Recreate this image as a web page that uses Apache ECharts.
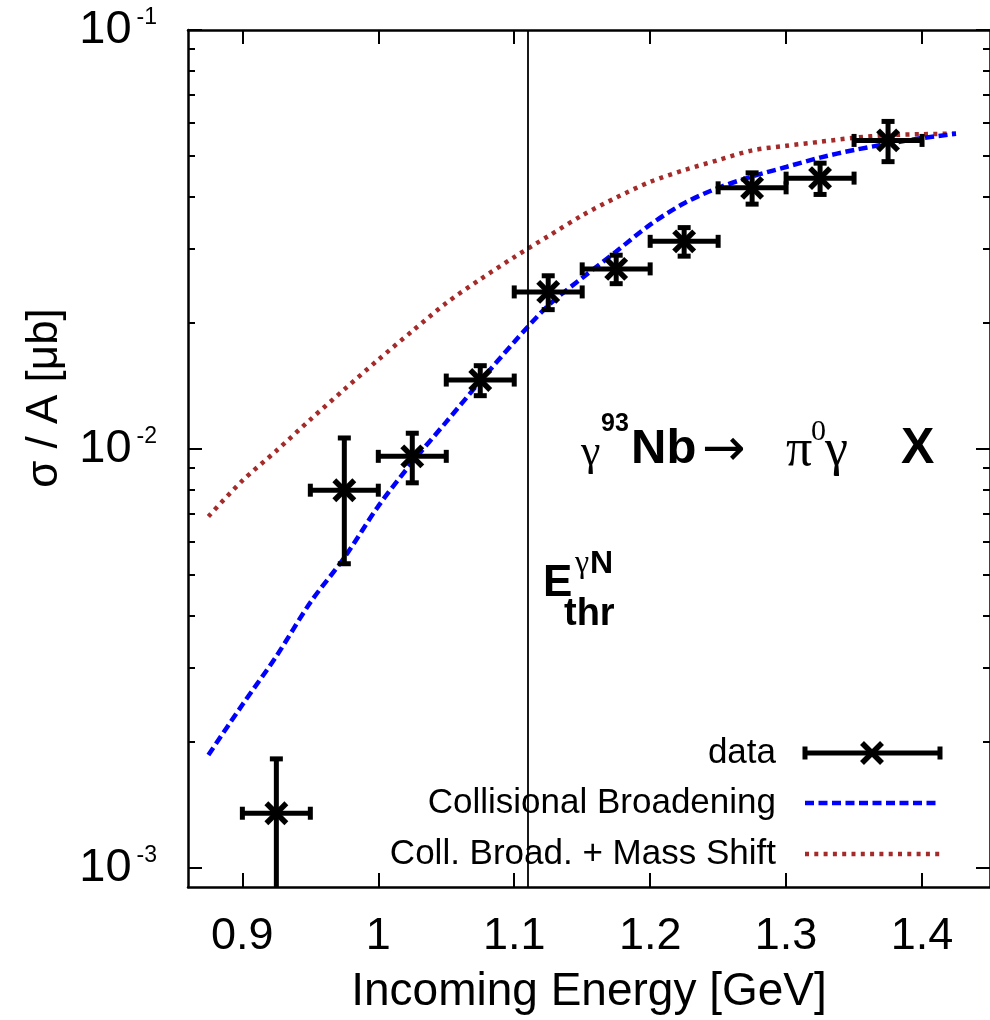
<!DOCTYPE html>
<html>
<head>
<meta charset="utf-8">
<script src="https://cdn.jsdelivr.net/npm/echarts@6/dist/echarts.min.js"></script>
<style>
  html, body { margin: 0; padding: 0; background: #fff; }
  #chart { width: 990px; height: 1020px; }
</style>
</head>
<body>
<div id="chart"></div>
<script>
// Measured cross sections per nucleon (bin centres, values and errors in µb)
const energy = [0.925, 0.975, 1.025, 1.075, 1.125, 1.175, 1.225, 1.275, 1.325, 1.375];
const sigma = [1.35e-3, 7.97e-3, 9.6e-3, 1.46e-2, 2.37e-2, 2.69e-2, 3.13e-2, 4.2e-2, 4.43e-2, 5.45e-2];
const sigmaErr = [0.47e-3, 2.65e-3, 1.3e-3, 0.12e-2, 0.22e-2, 0.21e-2, 0.245e-2, 0.36e-2, 0.38e-2, 0.6e-2];
const binHalfWidth = [0.025, 0.025, 0.025, 0.025, 0.025, 0.025, 0.025, 0.025, 0.025, 0.025];

// Model curves
const modelEnergy = [0.875, 0.9, 0.925, 0.95, 0.975, 1.0, 1.025, 1.05, 1.075, 1.1, 1.125, 1.15,
  1.175, 1.2, 1.225, 1.25, 1.275, 1.3, 1.325, 1.35, 1.375, 1.4, 1.425];
const collBroadening = [1.86e-3, 2.45e-3, 3.2e-3, 4.3e-3, 5.5e-3, 7.3e-3, 9.3e-3, 1.16e-2, 1.45e-2,
  1.80e-2, 2.2e-2, 2.56e-2, 2.96e-2, 3.43e-2, 3.86e-2, 4.2e-2, 4.47e-2, 4.71e-2, 4.96e-2,
  5.17e-2, 5.35e-2, 5.52e-2, 5.65e-2];
const massShift = [6.9e-3, 8.4e-3, 9.9e-3, 1.175e-2, 1.387e-2, 1.633e-2, 1.911e-2, 2.23e-2, 2.54e-2,
  2.87e-2, 3.22e-2, 3.61e-2, 3.98e-2, 4.34e-2, 4.63e-2, 4.89e-2, 5.16e-2, 5.29e-2, 5.41e-2,
  5.53e-2, 5.61e-2, 5.64e-2, 5.66e-2];

// Threshold energy E_thr for the elementary reaction on a nucleon
const thresholdEnergy = 1.108;

// Axis ticks
const xTicks = [0.9, 1.0, 1.1, 1.2, 1.3, 1.4];
const yMajorTicks = [0.001, 0.01, 0.1];
const yMinorTicks = [0.002, 0.003, 0.004, 0.005, 0.006, 0.007, 0.008, 0.009,
  0.02, 0.03, 0.04, 0.05, 0.06, 0.07, 0.08, 0.09];

const FONT = 'Liberation Sans';
const SERIF = 'Liberation Serif';

const dataPoints = energy.map((e, i) => [e, sigma[i], binHalfWidth[i], sigmaErr[i]]);
const blueCurve = modelEnergy.map((e, i) => [e, collBroadening[i]]);
const brownCurve = modelEnergy.map((e, i) => [e, massShift[i]]);

const BLUE_DASH = [9, 4.5];
const BROWN_DOT = [4, 5.3];

const chart = echarts.init(document.getElementById('chart'), null, { renderer: 'canvas' });

const frameLine = { show: true, lineStyle: { color: '#000', width: 2.5 } };

function xAxisCfg(pos, withLabels) {
  return {
    type: 'value', position: pos, min: 0.86, max: 1.45,
    axisLine: frameLine,
    axisTick: { show: true, inside: true, length: 14, customValues: xTicks,
      lineStyle: { color: '#000', width: 2 } },
    axisLabel: withLabels ? {
      show: true, customValues: xTicks, margin: 27, color: '#000',
      fontSize: 45, fontFamily: FONT,
      formatter: v => (Math.round(v * 10) / 10).toString()
    } : { show: false },
    splitLine: { show: false },
    name: withLabels ? 'Incoming Energy [GeV]' : '',
    nameLocation: 'middle', nameGap: 82,
    nameTextStyle: { fontSize: 46, fontFamily: FONT, color: '#000' }
  };
}

function yAxisCfg(pos, major, withLabels) {
  return {
    type: 'log', position: pos, min: 0.0009, max: 0.1, logBase: 10,
    axisLine: major ? frameLine : { show: false },
    axisTick: { show: true, inside: true, length: major ? 14 : 7,
      customValues: major ? yMajorTicks : yMinorTicks,
      lineStyle: { color: '#000', width: 2 } },
    axisLabel: withLabels ? {
      show: true, customValues: yMajorTicks, margin: 31, color: '#000',
      formatter: v => '{b|10}{s|' + Math.round(Math.log10(v)) + '}',
      rich: {
        b: { fontSize: 47, fontFamily: FONT, color: '#000' },
        s: { fontSize: 23, fontFamily: FONT, color: '#000', verticalAlign: 'top', padding: [0, 0, 0, 5] }
      }
    } : { show: false },
    splitLine: { show: false },
    minorTick: { show: false }
  };
}

// Data points with horizontal (bin) and vertical (statistical) error bars and an "x" marker
function renderPoint(params, api) {
  const x = api.value(0), y = api.value(1), dx = api.value(2), dy = api.value(3);
  const c = api.coord([x, y]);
  const l = api.coord([x - dx, y]);
  const r = api.coord([x + dx, y]);
  const t = api.coord([x, y + dy]);
  const b = api.coord([x, y - dy]);
  const lw = 5, cap = 13, m = 10;
  const st = { stroke: '#000', lineWidth: lw, fill: null, lineCap: 'butt' };
  const mk = { stroke: '#000', lineWidth: 5.5, fill: null, lineCap: 'butt' };
  return {
    type: 'group',
    children: [
      { type: 'line', shape: { x1: l[0], y1: c[1], x2: r[0], y2: c[1] }, style: st },
      { type: 'line', shape: { x1: c[0], y1: t[1], x2: c[0], y2: b[1] }, style: st },
      { type: 'rect', shape: { x: l[0] - 2.5, y: c[1] - cap / 2, width: 5, height: cap }, style: { fill: '#000' } },
      { type: 'rect', shape: { x: r[0] - 2.5, y: c[1] - cap / 2, width: 5, height: cap }, style: { fill: '#000' } },
      { type: 'rect', shape: { x: c[0] - cap / 2, y: t[1] - 2.5, width: cap, height: 5 }, style: { fill: '#000' } },
      { type: 'rect', shape: { x: c[0] - cap / 2, y: b[1] - 2.5, width: cap, height: 5 }, style: { fill: '#000' } },
      { type: 'line', shape: { x1: c[0] - m, y1: c[1] - m, x2: c[0] + m, y2: c[1] + m }, style: mk },
      { type: 'line', shape: { x1: c[0] - m, y1: c[1] + m, x2: c[0] + m, y2: c[1] - m }, style: mk }
    ]
  };
}

// Legend entries drawn at the lower right of the plot
const legendRightX = 776;
const legendLineX1 = 805, legendLineX2 = 940;
const legendRows = [753, 803, 854];
const legendStyle = { fontSize: 35, fontFamily: FONT, fill: '#000', align: 'right', verticalAlign: 'middle' };

const legendGraphics = [
  { type: 'text', x: legendRightX, y: legendRows[0], style: Object.assign({ text: 'data' }, legendStyle) },
  { type: 'text', x: legendRightX, y: legendRows[1], style: Object.assign({ text: 'Collisional Broadening' }, legendStyle) },
  { type: 'text', x: legendRightX, y: legendRows[2], style: Object.assign({ text: 'Coll. Broad. + Mass Shift' }, legendStyle) },
  { type: 'line', shape: { x1: legendLineX1, y1: legendRows[0], x2: legendLineX2, y2: legendRows[0] },
    style: { stroke: '#000', lineWidth: 5 } },
  { type: 'rect', shape: { x: legendLineX1 - 2.5, y: legendRows[0] - 6.5, width: 5, height: 13 }, style: { fill: '#000' } },
  { type: 'rect', shape: { x: legendLineX2 - 2.5, y: legendRows[0] - 6.5, width: 5, height: 13 }, style: { fill: '#000' } },
  { type: 'line', shape: { x1: 862, y1: legendRows[0] - 10, x2: 882, y2: legendRows[0] + 10 },
    style: { stroke: '#000', lineWidth: 5.5 } },
  { type: 'line', shape: { x1: 862, y1: legendRows[0] + 10, x2: 882, y2: legendRows[0] - 10 },
    style: { stroke: '#000', lineWidth: 5.5 } },
  { type: 'line', shape: { x1: legendLineX1, y1: legendRows[1], x2: legendLineX2, y2: legendRows[1] },
    style: { stroke: '#0000ff', lineWidth: 4.5, lineDash: BLUE_DASH, lineCap: 'butt' } },
  { type: 'line', shape: { x1: legendLineX1, y1: legendRows[2], x2: legendLineX2, y2: legendRows[2] },
    style: { stroke: '#a52a2a', lineWidth: 4.5, lineDash: BROWN_DOT, lineCap: 'butt' } }
];

function txt(x, y, text, size, family, bold) {
  return { type: 'text', x: x, y: y,
    style: { text: text, fontSize: size, fontFamily: family, fontWeight: bold ? 'bold' : 'normal',
      fill: '#000', align: 'left', verticalAlign: 'middle' } };
}

// Axis title, reaction label and threshold label
const annotationGraphics = [
  { type: 'text', x: 45, y: 398, rotation: Math.PI / 2,
    style: { text: 'σ / A [μb]', fontSize: 44, fontFamily: FONT, fill: '#000', align: 'center', verticalAlign: 'middle' } },
  // γ 93Nb → π0γ X
  txt(581, 453, 'γ', 44, SERIF, false),
  txt(601, 424, '93', 25, FONT, true),
  txt(631, 449, 'Nb', 49, FONT, true),
  txt(702, 451, '→', 52, 'DejaVu Sans', false),
  txt(786, 451, 'π', 52, SERIF, false),
  txt(811, 432, '0', 30, SERIF, false),
  txt(825, 451, 'γ', 52, SERIF, false),
  txt(901, 449, 'X', 50, FONT, true),
  // E_thr^γN
  txt(543, 584, 'E', 44, FONT, true),
  txt(575, 564, 'γ', 32, SERIF, false),
  txt(590, 564, 'N', 32, FONT, true),
  txt(564, 615, 'thr', 38, FONT, true)
];

const option = {
  animation: false,
  backgroundColor: '#fff',
  grid: { left: 188, top: 30, width: 808, height: 861, containLabel: false },
  xAxis: [xAxisCfg('bottom', true), xAxisCfg('top', false)],
  yAxis: [
    yAxisCfg('left', true, true),
    yAxisCfg('left', false, false),
    yAxisCfg('right', true, false),
    yAxisCfg('right', false, false)
  ],
  series: [
    {
      name: 'Collisional Broadening', type: 'line', data: blueCurve,
      xAxisIndex: 0, yAxisIndex: 0, showSymbol: false, smooth: 0.3,
      lineStyle: { color: '#0000ff', width: 4.5, type: BLUE_DASH, cap: 'butt' },
      emphasis: { disabled: true }, z: 3,
      markLine: {
        silent: true, symbol: 'none', label: { show: false },
        lineStyle: { color: '#000', width: 1.8, type: 'solid' },
        emphasis: { disabled: true },
        data: [{ xAxis: thresholdEnergy }]
      }
    },
    {
      name: 'Coll. Broad. + Mass Shift', type: 'line', data: brownCurve,
      xAxisIndex: 0, yAxisIndex: 0, showSymbol: false, smooth: 0.3,
      lineStyle: { color: '#a52a2a', width: 4.5, type: BROWN_DOT, cap: 'butt' },
      emphasis: { disabled: true }, z: 2
    },
    {
      name: 'data', type: 'custom', data: dataPoints,
      xAxisIndex: 0, yAxisIndex: 0, clip: true,
      encode: { x: 0, y: 1 },
      renderItem: renderPoint, z: 4
    }
  ],
  graphic: legendGraphics.concat(annotationGraphics)
};

chart.setOption(option);
</script>
</body>
</html>
